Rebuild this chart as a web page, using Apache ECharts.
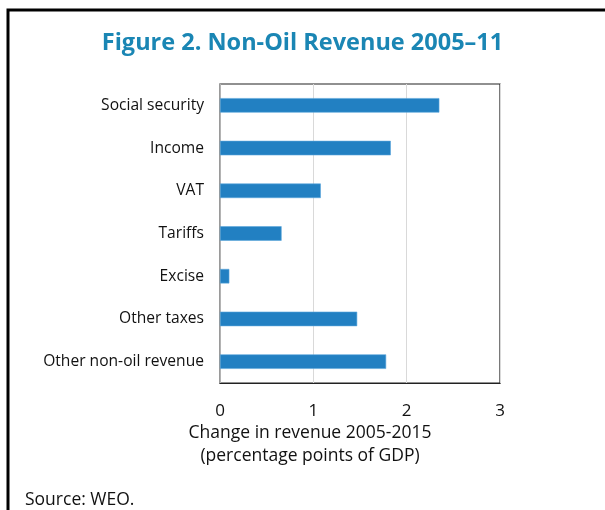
<!DOCTYPE html>
<html><head><meta charset="utf-8">
<script src="https://cdn.jsdelivr.net/npm/echarts@6/dist/echarts.min.js"></script>
<style>html,body{margin:0;padding:0;background:#fff}#c{width:605px;height:510px}</style>
</head><body><div id="c"></div>
<script>
const categories = ["Social security","Income","VAT","Tariffs","Excise","Other taxes","Other non-oil revenue"];
const values = [2.35, 1.83, 1.08, 0.66, 0.10, 1.47, 1.78];
const xTicks = [0, 1, 2, 3];
const titleText = "Figure 2. Non-Oil Revenue 2005\u201311";
const axisTitle = ["Change in revenue 2005-2015", "(percentage points of GDP)"];
const sourceText = "Source: WEO.";

const FONT = "'Open Sans', 'Noto Sans', sans-serif";
const chart = echarts.init(document.getElementById('c'), null, {renderer:'canvas'});
chart.setOption({
  animation:false,
  backgroundColor:'#fff',
  title:{text:titleText,left:'center',top:26,
    textStyle:{color:'#1a86b4',fontSize:23.5,fontWeight:'bold',fontFamily:FONT}},
  grid:{left:220,right:105,top:84,bottom:127,show:true,borderColor:'#222',borderWidth:1.2,backgroundColor:'transparent'},
  xAxis:{type:'value',min:xTicks[0],max:xTicks[xTicks.length-1],interval:1,
    axisLine:{show:true,lineStyle:{color:'#222',width:1.2}},
    axisTick:{show:false},
    splitLine:{show:true,lineStyle:{color:'#d9d9d9',width:1}},
    axisLabel:{color:'#111',fontSize:17,fontFamily:FONT,margin:20}},
  yAxis:{type:'category',data:categories,inverse:true,
    axisLine:{show:true,lineStyle:{color:'#a6a6a6',width:1.5}},
    axisTick:{show:false},
    axisLabel:{color:'#111',fontSize:15.6,fontFamily:FONT,margin:16}},
  series:[{type:'bar',data:values,barWidth:14.5,
    itemStyle:{color:'#2280c2',borderColor:'#5aa6dc',borderWidth:0.6}}],
  graphic:[
    {type:'rect',shape:{x:8,y:10,width:620,height:520},style:{fill:'none',stroke:'#000',lineWidth:3},silent:true},
    {type:'text',style:{text:axisTitle[0],x:310,y:433,align:'center',verticalAlign:'middle',font:'17.5px '+FONT,fill:'#111'}},
    {type:'text',style:{text:axisTitle[1],x:310,y:456,align:'center',verticalAlign:'middle',font:'17.5px '+FONT,fill:'#111'}},
    {type:'text',style:{text:sourceText,x:25,y:500,align:'left',verticalAlign:'middle',font:'17.5px '+FONT,fill:'#111'}}
  ]
});
</script></body></html>
